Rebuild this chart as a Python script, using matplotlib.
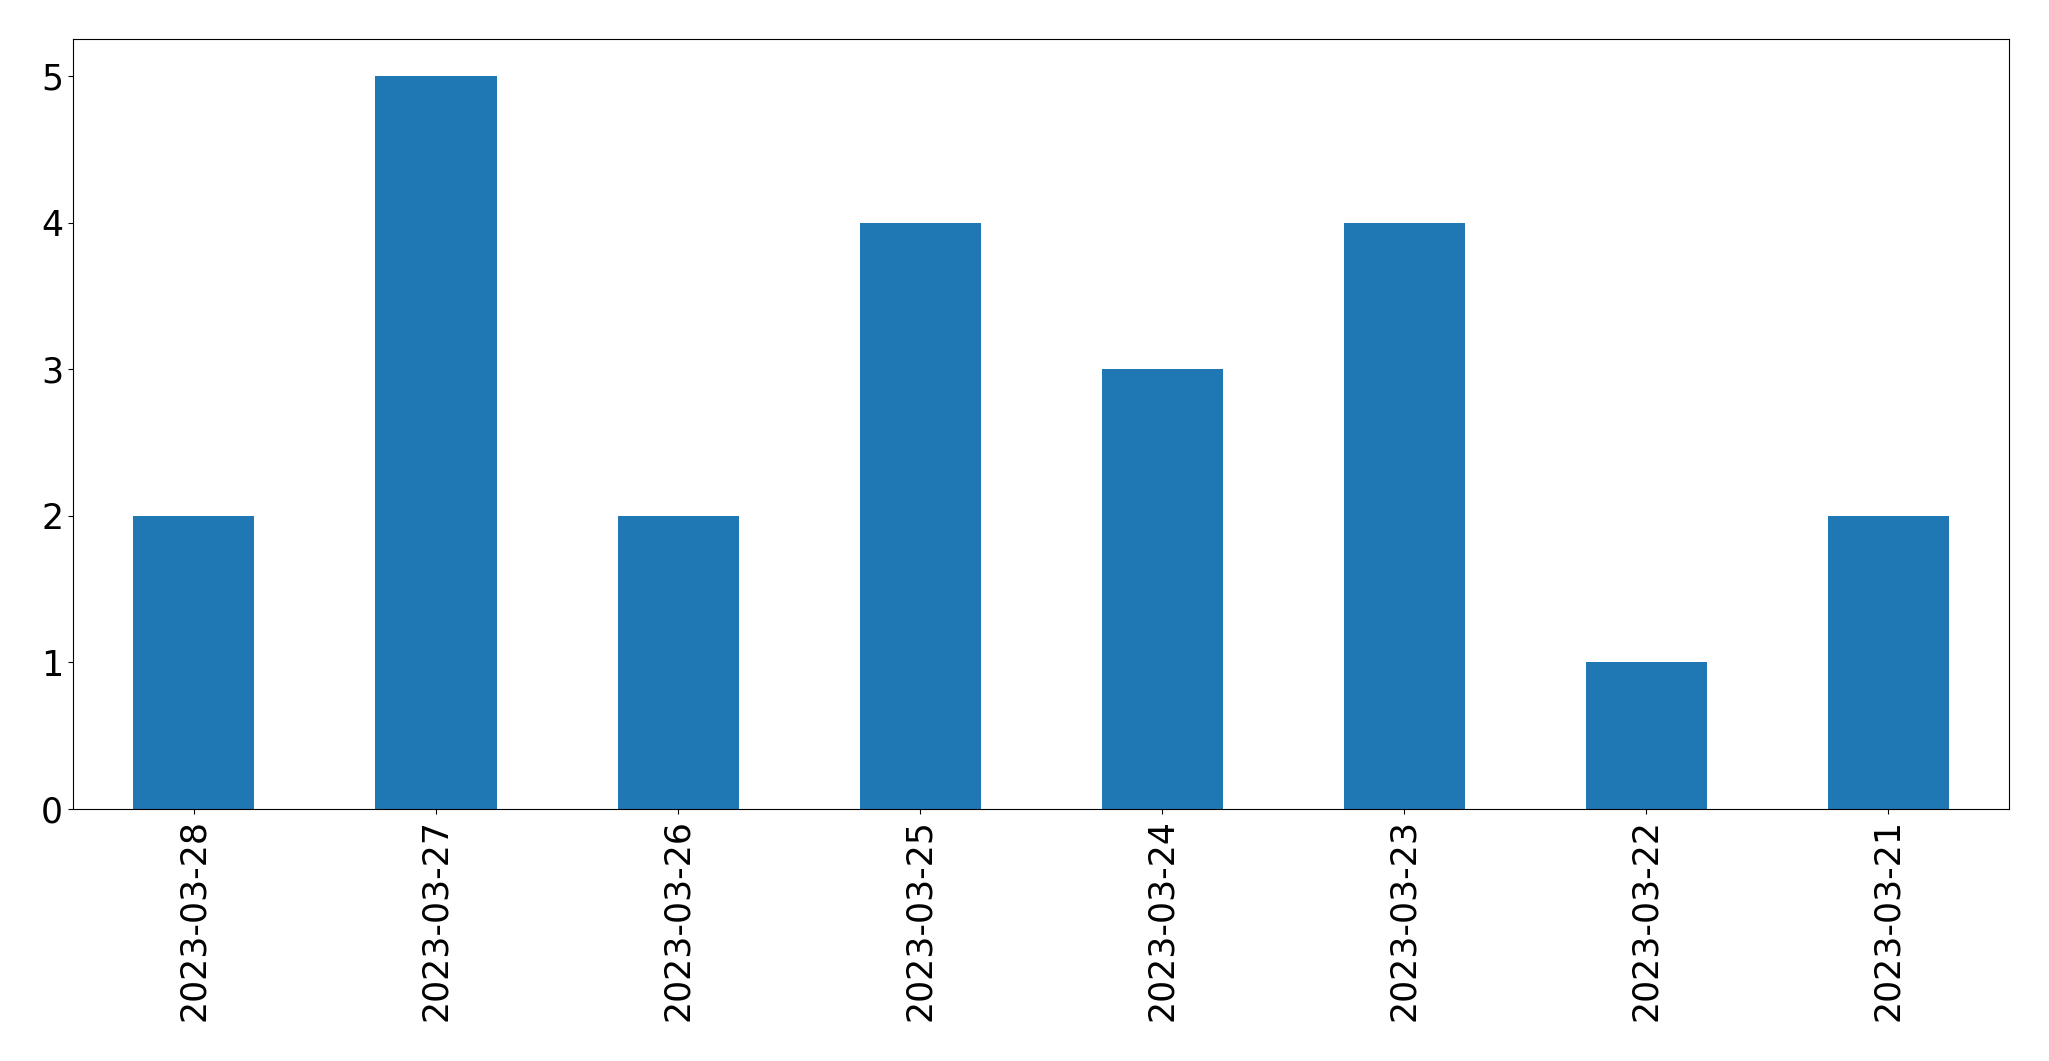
import matplotlib
matplotlib.use('Agg')
import matplotlib.pyplot as plt
import pandas as pd

# dates and counts
dates = ['2023-03-28', '2023-03-27', '2023-03-26', '2023-03-25',
         '2023-03-24', '2023-03-23', '2023-03-22', '2023-03-21']
counts = [2, 5, 2, 4, 3, 4, 1, 2]

plt.rcParams['font.size'] = 25

fig = plt.figure(figsize=(20.49, 10.61), dpi=100)
ax = fig.add_axes([0.0356, 0.2375, 0.9450, 0.7255])

s = pd.Series(counts, index=dates)
s.plot(kind='bar', ax=ax, color='#1f77b4', width=0.5)

fig.savefig('out.png', dpi=100)
